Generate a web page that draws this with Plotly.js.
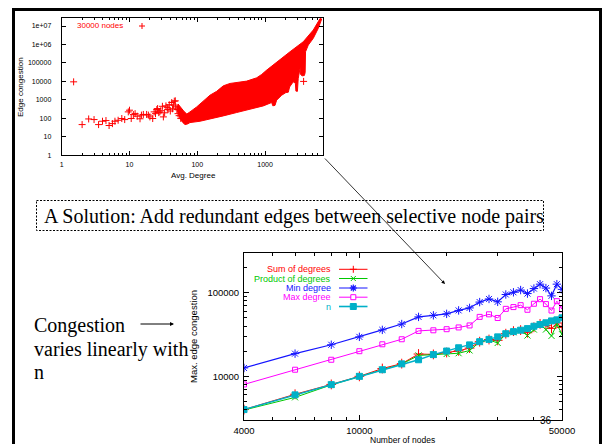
<!DOCTYPE html>
<html><head><meta charset="utf-8">
<script src="https://cdn.plot.ly/plotly-3.0.1.min.js"></script>
<style>html,body{margin:0;padding:0;background:#fff;overflow:hidden}#c{width:602px;height:444px}</style>
</head><body><div id="c"></div>
<script>
// ---------- Top chart: edge congestion vs avg. degree (30000 nodes) ----------
const sparseDegree = [1.5, 2.0, 2.5, 3.0, 3.5, 4.0, 4.5, 5.0, 5.6, 6.1, 6.8, 7.7, 8.5, 9.6, 10, 10.6, 11.4, 12.1, 13, 14.3, 15, 16, 17.9, 19, 20, 22, 23.1, 24.2, 25.3, 26, 27, 28, 29, 30.6, 31.6, 33, 34.5, 36, 37, 38.6, 40, 42, 43, 44.8, 45.8, 47.4, 48, 50, 52, 54, 57, 3700];
const sparseCongestion = [9500, 46, 93, 86, 46, 70, 76, 41, 52, 70, 79, 98, 86, 224, 277, 98, 160, 180, 131, 95, 150, 163, 163, 150, 120, 98, 224, 180, 300, 340, 205, 224, 260, 450, 120, 200, 474, 380, 300, 550, 250, 720, 330, 520, 850, 890, 420, 300, 180, 140, 100, 10000];
// outline of the solid (overplotted) band of points
const bandDegree = [50, 54, 57, 61, 66, 72, 78, 110, 154, 242, 381, 599, 942, 1250, 1300, 1400, 1480, 1760, 1950, 2030, 2200, 2300, 2600, 2800, 2850, 3000, 3080, 3300, 3320, 3500, 3800, 3900, 3950, 4340, 5140, 6090, 6840,
  6500, 5140, 3660, 2330, 1480, 1056, 891, 752, 535, 381, 304, 242, 193, 154, 123, 98, 78, 70, 63, 57, 52, 50];
const bandCongestion = [300, 130, 85, 60, 46, 50, 59, 70, 90, 136, 207, 300, 474, 720, 480, 500, 965, 1800, 2200, 2500, 2600, 5000, 9500, 8000, 3000, 2900, 14000, 60000, 25000, 20000, 21000, 30000, 400000, 930000, 2150000, 7500000, 24000000,
  26000000, 6060000, 1410000, 403000, 115600, 40900, 23900, 15700, 10400, 8780, 7770, 5780, 2900, 1800, 851, 417, 224, 170, 250, 420, 600, 300];
const topLegend = '30000 nodes';
const topXTicks = [1, 10, 100, 1000];
const topXTickText = ['1', '10', '100', '1000'];
const topXMinor = [2,3,4,5,6,7,8,9,20,30,40,50,60,70,80,90,200,300,400,500,600,700,800,900,2000,3000,4000,5000,6000,7000];
const topYTicks = [1, 10, 100, 1000, 10000, 100000, 1000000, 10000000];
const topYTickText = ['1', '10', '100', '1000', '10000', '100000', '1e+06', '1e+07'];

// ---------- Bottom chart: max. edge congestion vs number of nodes ----------
const nodes = [4000, 6000, 8000, 10000, 12000, 14000, 16000, 18000, 20000, 22000, 24000, 26000, 28000, 30000, 32000, 34000, 36000, 38000, 40000, 42000, 44000, 46000, 48000, 50000];
const sumDeg  = [4000, 6100, 8000, 10000, 12400, 14200, 18500, 18300, 19300, 20200, 21800, 26000, 27600, 27000, 32400, 34800, 35800, 33300, 38700, 42500, 40500, 37500, 43500, 38500];
const prodDeg = [3950, 5600, 7900, 10000, 12000, 14000, 17800, 18200, 18500, 18900, 20400, 25700, 27300, 25100, 32200, 33700, 35300, 30800, 36300, 41700, 36300, 30500, 42000, 32000];
const minDeg  = [12600, 18700, 23900, 29700, 36000, 42300, 51500, 53800, 56000, 61600, 66000, 77500, 84500, 78000, 95500, 101500, 108000, 98000, 112500, 127000, 114000, 92000, 127000, 110000];
const maxDeg  = [8000, 12000, 15800, 20000, 24200, 27800, 35000, 35600, 36700, 38500, 40700, 51500, 55300, 50000, 64300, 67500, 71200, 62700, 74000, 84000, 73300, 61400, 79500, 63500];
const nVals   = [4000, 6000, 7950, 10000, 12000, 14100, 15800, 18200, 20100, 22000, 23800, 26000, 27700, 29700, 32400, 34300, 35700, 37300, 39800, 41800, 43800, 46100, 47500, 50300];
const seriesNames = ['Sum of degrees', 'Product of degrees', 'Min degree', 'Max degree', 'n'];
const botXTicks = [4000, 10000, 50000];
const botXTickText = ['4000', '10000', '50000'];
const botXMinor = [5000, 6000, 7000, 8000, 9000, 20000, 30000, 40000];
const botYTicks = [10000, 100000];
const botYTickText = ['10000', '100000'];
const botYMinor = [3000, 4000, 5000, 6000, 7000, 8000, 9000, 20000, 30000, 40000, 50000, 60000, 70000, 80000, 90000, 200000, 300000];

// ---------- slide texts ----------
const boxText = 'A Solution: Add redundant edges between selective node pairs';
const sideText = ['Congestion', 'varies linearly with', 'n'];
const slideNumber = '36';

// ---------- drawing ----------
const W = 602, H = 444;
const px = x => x / W, py = y => 1 - y / H;
const SANS = 'Liberation Sans, Arial, sans-serif';
const SERIF = 'Liberation Serif, Times New Roman, serif';

const styles = [
  {color: '#ff0000', symbol: 'cross-thin', size: 7, width: 1},
  {color: '#00c800', symbol: 'x-thin', size: 6, width: 1},
  {color: '#1414ff', symbol: 'asterisk', size: 7, width: 1.2},
  {color: '#ff00ff', symbol: 'square-open', size: 5, width: 1},
  {color: '#00b0c8', symbol: 'square', size: 6, width: 1.4}
];
const botData = [sumDeg, prodDeg, minDeg, maxDeg, nVals];

const traces = [
  {type: 'scatter', mode: 'lines', x: bandDegree, y: bandCongestion, fill: 'toself', fillcolor: '#ff0000',
   line: {color: '#ff0000', width: 1}, xaxis: 'x', yaxis: 'y', hoverinfo: 'skip', showlegend: false},
  {type: 'scatter', mode: 'markers', x: sparseDegree, y: sparseCongestion, xaxis: 'x', yaxis: 'y', showlegend: false,
   marker: {symbol: 'cross-thin', size: 5, color: '#ff0000', line: {width: 1, color: '#ff0000'}}}
];
botData.forEach((d, i) => {
  const s = styles[i];
  traces.push({type: 'scatter', mode: 'lines+markers', name: seriesNames[i], x: nodes, y: d, xaxis: 'x2', yaxis: 'y2',
    showlegend: false, line: {color: s.color, width: s.width},
    marker: {symbol: s.symbol, size: s.size, color: s.color, line: {width: 1, color: s.color}}});
});

const axBase = {type: 'log', showgrid: false, zeroline: false, showline: true, linecolor: '#000', linewidth: 1,
  mirror: 'allticks', ticks: 'inside', tickcolor: '#000', tickwidth: 1, tickmode: 'array'};

const layout = {
  width: W, height: H, margin: {l: 0, r: 0, t: 0, b: 0},
  paper_bgcolor: '#fff', plot_bgcolor: 'rgba(0,0,0,0)', showlegend: false,
  font: {family: SANS, color: '#000'},
  xaxis: Object.assign({}, axBase, {domain: [px(61.7), px(322.7)], anchor: 'y', range: [0, 3.85],
    tickvals: topXTicks, ticktext: topXTickText, ticklen: 4, tickfont: {size: 7, family: SANS},
    ticklabelstandoff: 2, minor: {tickvals: topXMinor, ticks: 'inside', ticklen: 2, tickcolor: '#000', tickwidth: 1}}),
  yaxis: Object.assign({}, axBase, {domain: [py(155.3), py(17.7)], anchor: 'x', range: [0, 7.45],
    tickvals: topYTicks, ticktext: topYTickText, ticklen: 4, tickfont: {size: 7, family: SANS}, ticklabelstandoff: 8}),
  xaxis2: Object.assign({}, axBase, {domain: [px(244), px(562)], anchor: 'y2', range: [Math.log10(4000), Math.log10(50000)],
    tickvals: botXTicks, ticktext: botXTickText, ticklen: 5, tickfont: {size: 9.5, family: SANS}, ticklabelstandoff: 2,
    minor: {tickvals: botXMinor, ticks: 'inside', ticklen: 3, tickcolor: '#000', tickwidth: 1}}),
  yaxis2: Object.assign({}, axBase, {domain: [py(420), py(253)], anchor: 'x2', range: [Math.log10(3000), Math.log10(300000)],
    tickvals: botYTicks, ticktext: botYTickText, ticklen: 5, tickfont: {size: 9.5, family: SANS}, ticklabelstandoff: 2,
    minor: {tickvals: botYMinor, ticks: 'inside', ticklen: 3, tickcolor: '#000', tickwidth: 1}}),
  shapes: [], annotations: []
};

const S = layout.shapes, A = layout.annotations;
const line = (x0, y0, x1, y1, color, width, dash) => S.push({type: 'line', xref: 'paper', yref: 'paper',
  x0: px(x0), y0: py(y0), x1: px(x1), y1: py(y1), line: {color, width, dash: dash || 'solid'}});
const rect = (x0, y0, x1, y1, color, width, fill, dash) => S.push({type: 'rect', xref: 'paper', yref: 'paper',
  x0: px(x0), y0: py(y0), x1: px(x1), y1: py(y1), line: {color, width, dash: dash || 'solid'}, fillcolor: fill || 'rgba(0,0,0,0)'});
const text = (t, x, y, opt) => A.push(Object.assign({text: t, xref: 'paper', yref: 'paper', x: px(x), y: py(y),
  showarrow: false, xanchor: 'center', yanchor: 'middle', font: {family: SANS, size: 8, color: '#000'}}, opt || {}));

// slide frame
line(13.5, 9.5, 13.5, 450, '#000', 3);
line(12, 9.5, 603, 9.5, '#000', 3);
line(600.5, 8, 600.5, 450, '#000', 3);

// top chart texts
text(topLegend, 125, 26, {xanchor: 'right', font: {family: SANS, size: 8, color: '#ff0000'}});
line(139, 26, 145, 26, '#ff0000', 1); line(142, 23, 142, 29, '#ff0000', 1);
text('Avg. Degree', 193, 175, {font: {family: SANS, size: 8, color: '#000'}});
text('Edge congestion', 20, 87, {textangle: -90, font: {family: SANS, size: 8, color: '#000'}});

// dashed solution box
rect(36.5, 200.5, 543.5, 230.5, '#000', 1, null, '2px,1.5px');
text(boxText, 42, 216, {xanchor: 'left', font: {family: SERIF, size: 20, color: '#000'}});

// side text
text(sideText[0], 32, 325, {xanchor: 'left', font: {family: SERIF, size: 20, color: '#000'}});
text(sideText[1], 32, 349, {xanchor: 'left', font: {family: SERIF, size: 20, color: '#000'}});
text(sideText[2], 32, 372, {xanchor: 'left', font: {family: SERIF, size: 20, color: '#000'}});
A.push({text: '', xref: 'paper', yref: 'paper', x: px(174), y: py(324), ax: -35, ay: 0, showarrow: true,
  arrowhead: 2, arrowsize: 0.8, arrowwidth: 1, arrowcolor: '#000', standoff: 0});

// long arrow between the charts
A.push({text: '', xref: 'paper', yref: 'paper', x: px(445), y: py(284), ax: 323.5 - 445, ay: 157 - 284, showarrow: true,
  arrowhead: 2, arrowsize: 0.9, arrowwidth: 0.8, arrowcolor: '#000', standoff: 0});

// bottom chart texts
text('Max. edge congestion', 193, 337, {textangle: -90, font: {family: SANS, size: 9.5, color: '#000'}});
text('Number of nodes', 402, 432.5, {yanchor: 'top', font: {family: SANS, size: 8.5, color: '#000'}});
text(slideNumber, 546, 420, {font: {family: SANS, size: 10, color: '#000'}});

// bottom legend (text left of key, as in gnuplot)
const rowY = [269.3, 278.5, 288, 297.2, 306.5];
const kx = 353.3;
seriesNames.forEach((nm, i) => {
  const s = styles[i], y = rowY[i];
  text(nm, 333, y, {xanchor: 'right', font: {family: SANS, size: 9, color: s.color}});
  line(339, y, 367.5, y, s.color, i === 4 ? 1.6 : 1);
  if (i === 0) { line(kx - 3.5, y, kx + 3.5, y, s.color, 1); line(kx, y - 3.5, kx, y + 3.5, s.color, 1); }
  if (i === 1) { line(kx - 2.5, y - 2.5, kx + 2.5, y + 2.5, s.color, 1); line(kx - 2.5, y + 2.5, kx + 2.5, y - 2.5, s.color, 1); }
  if (i === 2) { line(kx - 3.5, y, kx + 3.5, y, s.color, 1.2); line(kx, y - 3.5, kx, y + 3.5, s.color, 1.2);
                 line(kx - 2.5, y - 2.5, kx + 2.5, y + 2.5, s.color, 1.2); line(kx - 2.5, y + 2.5, kx + 2.5, y - 2.5, s.color, 1.2); }
  if (i === 3) rect(kx - 2.5, y - 2.5, kx + 2.5, y + 2.5, s.color, 1, '#fff');
  if (i === 4) rect(kx - 3, y - 3, kx + 3, y + 3, s.color, 1, s.color);
});

Plotly.newPlot('c', traces, layout, {staticPlot: true, displayModeBar: false});
</script>
</body></html>
